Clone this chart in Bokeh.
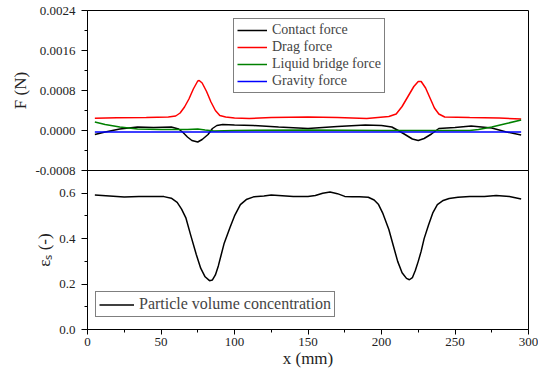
from bokeh.plotting import figure
from bokeh.models import (Range1d, FixedTicker, NumeralTickFormatter,
                          Legend, LegendItem)
from bokeh.layouts import column
from bokeh.embed import file_html
from bokeh.resources import INLINE

# ---------------- data ----------------
contact_x = [5, 12, 22, 34, 45, 57, 62, 65, 68, 71, 75, 78, 82, 85, 88, 92, 100, 113,
             130, 150, 170, 189, 200, 207, 212, 216, 221, 225, 229, 234, 239, 250,
             261, 275, 285, 295]
contact_f = [-0.00008, -0.00003, 0.00003, 0.00007, 0.00006, 0.00007, 0.00003, -0.00004,
             -0.00013, -0.00020, -0.00023, -0.00018, -0.00008, 0.00004, 0.00010,
             0.00012, 0.00011, 0.00010, 0.00007, 0.00004, 0.00008, 0.00011, 0.00010,
             0.00007, -0.00001, -0.00008, -0.00017, -0.00020, -0.00016, -0.00007,
             0.00004, 0.00006, 0.00009, 0.00005, -0.00003, -0.00009]

drag_x = [5, 20, 40, 55, 60, 63, 66, 69, 72, 75, 76, 78, 81, 84, 87, 90, 94, 100,
          110, 125, 150, 170, 190, 205, 210, 214, 218, 222, 225, 227, 230, 233, 236,
          239, 243, 260, 280, 295]
drag_f = [0.000247, 0.000255, 0.000262, 0.00027, 0.00029, 0.00035, 0.00047, 0.00063,
          0.00083, 0.00099, 0.00100, 0.00095, 0.00078, 0.00057, 0.00040, 0.00030,
          0.00027, 0.00025, 0.00024, 0.00026, 0.00027, 0.00026, 0.00024, 0.00028,
          0.00033, 0.00048, 0.00068, 0.00088, 0.00098, 0.00098, 0.00085, 0.00065,
          0.00045, 0.00033, 0.00027, 0.00026, 0.00025, 0.00023]

liquid_x = [5, 12, 22, 34, 50, 68, 75, 80, 86, 100, 150, 200, 260, 266, 275, 285, 295]
liquid_f = [0.00017, 0.00012, 0.00007, 0.00003, 0.00002, 0.00002, 0.00003, 0.00001,
            -0.00001, 0.0, 0.00001, 0.0, 0.0, 0.00002, 0.00007, 0.00014, 0.00021]

gravity_x = [5, 150, 295]
gravity_f = [-0.00003, -0.00003, -0.00003]

conc_x = [5, 15, 25, 35, 45, 52, 57, 61, 64, 67, 70, 74, 77, 80, 83, 85, 87, 89, 91,
          93, 97, 100, 104, 108, 113, 120, 125, 130, 140, 150, 155, 160, 165, 170,
          175, 180, 185, 191, 195, 198, 201, 205, 208, 211, 214, 217, 219, 221, 223,
          225, 227, 229, 232, 235, 238, 242, 246, 252, 260, 270, 278, 287, 295]
conc_v = [0.592, 0.588, 0.583, 0.585, 0.586, 0.585, 0.578, 0.560, 0.530, 0.490, 0.420,
          0.330, 0.270, 0.232, 0.215, 0.218, 0.240, 0.280, 0.330, 0.380, 0.450, 0.500,
          0.550, 0.572, 0.584, 0.588, 0.592, 0.590, 0.586, 0.586, 0.590, 0.600, 0.605,
          0.598, 0.586, 0.584, 0.584, 0.582, 0.570, 0.550, 0.510, 0.440, 0.370, 0.300,
          0.250, 0.225, 0.219, 0.228, 0.260, 0.300, 0.345, 0.400, 0.460, 0.515, 0.550,
          0.568, 0.577, 0.582, 0.585, 0.586, 0.590, 0.586, 0.575]

force_ticks = [-0.0008, 0.0, 0.0008, 0.0016, 0.0024]
force_minor_ticks = [-0.0004, 0.0004, 0.0012, 0.0020]
conc_ticks = [0.0, 0.2, 0.4, 0.6]
conc_minor_ticks = [0.1, 0.3, 0.5]
x_ticks = [0, 50, 100, 150, 200, 250, 300]
x_minor_ticks = [25, 75, 125, 175, 225, 275]

FONT = "Liberation Serif"


def style_axis(ax):
    ax.major_label_text_font = FONT
    ax.major_label_text_font_size = "13px"
    ax.major_label_text_color = "#222222"
    ax.axis_label_text_font = FONT
    ax.axis_label_text_font_size = "17px"
    ax.axis_label_text_font_style = "normal"
    ax.axis_label_text_color = "#222222"
    ax.major_tick_in = 0
    ax.minor_tick_in = 0
    ax.axis_line_color = "black"
    ax.major_tick_line_color = "black"
    ax.minor_tick_line_color = "black"


def style_y(ax, ticks, minor, fmt):
    ax.ticker = FixedTicker(ticks=ticks, minor_ticks=minor)
    ax.formatter = NumeralTickFormatter(format=fmt)
    style_axis(ax)
    ax.axis_label_standoff = 2
    ax.major_label_standoff = 6
    ax.major_tick_out = 6
    ax.minor_tick_out = 3


# ---------------- top panel ----------------
p1 = figure(frame_width=441, frame_height=160, output_backend="svg",
            toolbar_location=None, x_axis_location=None,
            x_range=Range1d(0, 300), y_range=Range1d(-0.0008, 0.0024),
            min_border_left=87, min_border_right=10, min_border_top=10,
            min_border_bottom=10)
p1.grid.visible = False
p1.outline_line_color = "black"
p1.outline_line_width = 1
p1.yaxis.axis_label = "F (N)"
style_y(p1.yaxis[0], force_ticks, force_minor_ticks, "0.0000")

r_contact = p1.line(contact_x, contact_f, line_color="black", line_width=1.5)
r_drag = p1.line(drag_x, drag_f, line_color="#ff0000", line_width=1.5)
r_liquid = p1.line(liquid_x, liquid_f, line_color="#008000", line_width=1.5)
r_gravity = p1.line(gravity_x, gravity_f, line_color="#0000ff", line_width=1.5)

leg1 = Legend(items=[LegendItem(label="Contact force", renderers=[r_contact]),
                     LegendItem(label="Drag force", renderers=[r_drag]),
                     LegendItem(label="Liquid bridge force", renderers=[r_liquid]),
                     LegendItem(label="Gravity force", renderers=[r_gravity])],
              location=(146, 77), margin=0, padding=3, spacing=1,
              label_height=16, glyph_height=16, glyph_width=30, label_standoff=5,
              label_text_font=FONT, label_text_font_size="14px",
              border_line_color="black", border_line_width=1,
              background_fill_alpha=1)
p1.add_layout(leg1)

# ---------------- bottom panel ----------------
p2 = figure(frame_width=441, frame_height=159, output_backend="svg",
            toolbar_location=None,
            x_range=Range1d(0, 300), y_range=Range1d(0, 0.7),
            min_border_left=87, min_border_right=10, min_border_top=0,
            min_border_bottom=38)
p2.grid.visible = False
p2.outline_line_color = "black"
p2.outline_line_width = 1
p2.border_fill_color = None
p2.background_fill_color = None
p2.yaxis.axis_label = "\u03b5\u209b (-)"
style_y(p2.yaxis[0], conc_ticks, conc_minor_ticks, "0.0")

xa = p2.xaxis[0]
xa.ticker = FixedTicker(ticks=x_ticks, minor_ticks=x_minor_ticks)
xa.axis_label = "x (mm)"
style_axis(xa)
xa.axis_label_standoff = 0
xa.major_label_standoff = 3
xa.major_tick_out = 5
xa.minor_tick_out = 3

r_conc = p2.line(conc_x, conc_v, line_color="black", line_width=1.5)
leg2 = Legend(items=[LegendItem(label="Particle volume concentration", renderers=[r_conc])],
              location=(8, 12), margin=0, padding=3, spacing=0,
              label_height=17, glyph_height=17, glyph_width=35, label_standoff=5,
              label_text_font=FONT, label_text_font_size="16px",
              border_line_color="black", border_line_width=1,
              background_fill_alpha=1)
p2.add_layout(leg2)

p2.margin = (-10, 0, 0, 0)
layout = column(p1, p2)

open("out.html", "w").write(file_html(layout, INLINE))
